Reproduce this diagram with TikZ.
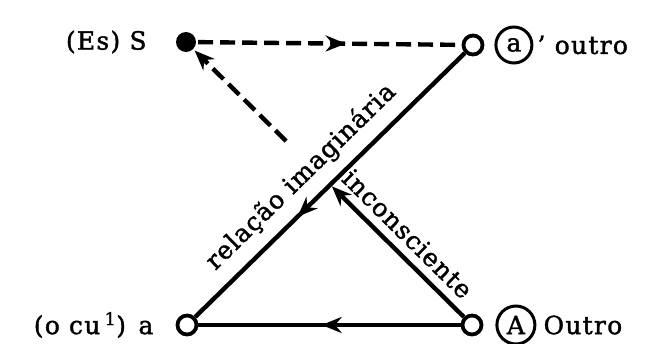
\documentclass[tikz,border=0pt]{standalone}
\usepackage{fontspec}
\setmainfont{DejaVu Serif}
\usetikzlibrary{positioning, calc, arrows.meta, decorations.markings}

\tikzset{
  schema/.style={x=1pt, y=-1pt, line width=4.4pt},
  dot/.style={circle, fill, inner sep=0pt, minimum size=20pt},
  hole/.style={circle, draw, line width=3.8pt, fill=white, inner sep=0pt, minimum size=19pt},
  ring/.style={circle, draw, line width=3pt, inner sep=1pt, minimum size=36pt,
    font=\fontsize{25}{27}\selectfont\addfontfeature{FakeBold=1.5}},
  lab/.style={inner sep=0pt, font=\fontsize{25}{28}\selectfont\addfontfeature{FakeBold=1.5, LetterSpace=5}},
  rel/.style={inner sep=0pt, font=\fontsize{25}{28}\selectfont\addfontfeature{FakeBold=1.5, LetterSpace=4}},
  dashline/.style={dash pattern=on 15pt off 7pt},
  midarrow/.style={postaction={decorate},
    decoration={markings, mark=at position #1 with {\arrow{Stealth[length=20pt, width=16pt]}}}},
}

\begin{document}
\begin{tikzpicture}[schema]
    \useasboundingbox (0,0) rectangle (653,343);

    % the four corners of the schema
    \node[dot]  (S)  at (186,42)  {};
    \node[hole] (ao) at (473,45)  {};
    \node[hole] (a)  at (187,325) {};
    \node[hole] (A)  at (472,325) {};

    % names beside the corners
    \node[lab, left=25pt of S] (nameS) {(Es) S};
    \node[ring, right=10pt of ao] (ringa) {a};
    \node[lab, right=2pt of ringa] (nameao) {’ outro};
    \node[lab, left=20pt of a] (namea) {(o cu\,\textsuperscript{1})\enspace a};
    \node[ring, minimum size=38pt, right=12pt of A] (ringA) {A};
    \node[lab, right=5pt of ringA] (nameA) {Outro};

    % points where the line from A breaks at the crossing
    \coordinate (hit) at ($(A)!0.49!(S)$);
    \coordinate (gap) at ($(A)!0.65!(S)$);

    % connectors
    \draw[dashline, midarrow=0.56] (S) -- (ao);
    \draw[midarrow=0.62] (ao) -- (a);
    \draw[midarrow=0.53] (A) -- (a);
    \draw[-{Stealth[length=20pt, width=16pt]}] (A) -- (hit);
    \draw[dashline, -{Stealth[length=20pt, width=16pt]}] (gap) -- (S);

    % labels along the diagonals
    \path (a) -- (ao) node[rel, sloped, pos=0.46, above=11pt] {relação imaginária};
    \path (S) -- (A) node[rel, sloped, pos=0.74, above=8pt] {inconsciente};
\end{tikzpicture}
\end{document}
